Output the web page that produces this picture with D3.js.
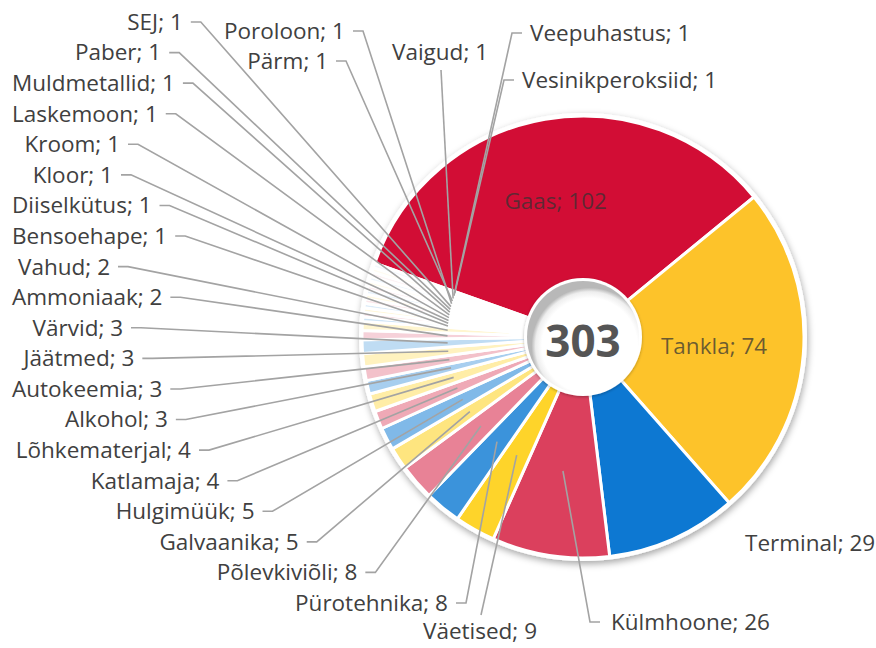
<!DOCTYPE html>
<html>
<head>
<meta charset="utf-8">
<script src="https://cdn.jsdelivr.net/npm/d3@7"></script>
<style>
  html, body { margin: 0; padding: 0; background: #fff; }
  svg { display: block; font-family: "Open Sans", sans-serif; }
</style>
</head>
<body>
<div id="chart"></div>
<script>
// data, in the order the slices run clockwise
const categories = ["Gaas", "Tankla", "Terminal", "Külmhoone", "Väetised", "Pürotehnika",
  "Põlevkiviõli", "Galvaanika", "Hulgimüük", "Katlamaja", "Lõhkematerjal", "Alkohol",
  "Autokeemia", "Jäätmed", "Värvid", "Ammoniaak", "Vahud", "Bensoehape", "Diiselkütus",
  "Kloor", "Kroom", "Laskemoon", "Muldmetallid", "Paber", "SEJ", "Poroloon", "Pärm",
  "Vaigud", "Veepuhastus", "Vesinikperoksiid"];
const values = [102, 74, 29, 26, 9, 8, 8, 5, 5, 4, 4, 3, 3, 3, 3, 2, 2,
  1, 1, 1, 1, 1, 1, 1, 1, 1, 1, 1, 1, 1];

const width = 876;
const height = 648;
const cx = 583, cy = 337;
const outerR = 221, innerR = 50, holeR = 56;
const startAngle = -70.5 * Math.PI / 180;

// colours: red / yellow / blue, getting paler every round
const baseColors = ["#d20f35", "#fdc32a", "#0a78d2"];
const lightColors = ["#d20f35", "#fed42a", "#0a78d2"];
const tints = [
  [0, 0.2, 0.48, 0.64, 0.74, 0.81, 0.86, 0.9, 0.93, 0.95],
  [0, 0, 0.4, 0.58, 0.7, 0.78, 0.84, 0.88, 0.92, 0.94],
  [0, 0.2, 0.48, 0.64, 0.74, 0.81, 0.86, 0.9, 0.93, 0.95]
];
function sliceColor(i) {
  const k = i % 3, lvl = Math.floor(i / 3);
  if (lvl === 0) return baseColors[k];
  return d3.interpolateRgb(lightColors[k], "#fff")(tints[k][lvl]);
}

const data = categories.map((name, i) => ({ name: name, value: values[i], index: i }));
const total = d3.sum(values);

const svg = d3.select("#chart").append("svg")
  .attr("width", width)
  .attr("height", height);

const defs = svg.append("defs");
const pieShadow = defs.append("filter").attr("id", "pieShadow")
  .attr("x", "-10%").attr("y", "-10%").attr("width", "120%").attr("height", "125%");
pieShadow.append("feDropShadow")
  .attr("dx", 1).attr("dy", 3).attr("stdDeviation", 3.5)
  .attr("flood-color", "#000").attr("flood-opacity", 0.35);

const holeShadow = defs.append("filter").attr("id", "holeShadow")
  .attr("x", "-30%").attr("y", "-30%").attr("width", "160%").attr("height", "160%");
holeShadow.append("feDropShadow")
  .attr("dx", 0).attr("dy", 1).attr("stdDeviation", 1.5)
  .attr("flood-color", "#000").attr("flood-opacity", 0.3);

const holeGrad = defs.append("radialGradient").attr("id", "holeGrad")
  .attr("cx", "56%").attr("cy", "58%").attr("r", "52%");
holeGrad.append("stop").attr("offset", "0.82").attr("stop-color", "#fff");
holeGrad.append("stop").attr("offset", "0.93").attr("stop-color", "#eee");
holeGrad.append("stop").attr("offset", "1").attr("stop-color", "#b8b8b8");

const pie = d3.pie()
  .sort(null)
  .value(d => d.value)
  .startAngle(startAngle)
  .endAngle(startAngle + 2 * Math.PI);
const arcs = pie(data);

const arc = d3.arc().innerRadius(innerR).outerRadius(outerR);

// slices
const pieG = svg.append("g")
  .attr("transform", `translate(${cx},${cy})`)
  .attr("filter", "url(#pieShadow)");

pieG.append("circle").attr("r", outerR + 3).attr("fill", "#fff");

pieG.selectAll("path.slice")
  .data(arcs)
  .join("path")
  .attr("class", "slice")
  .attr("d", arc)
  .attr("fill", d => sliceColor(d.index))
  .attr("stroke", "#fff")
  .attr("stroke-width", 3)
  .attr("stroke-linejoin", "round");

// centre disc with total
const holeG = svg.append("g").attr("transform", `translate(${cx},${cy})`);
holeG.append("circle").attr("r", holeR + 3).attr("fill", "#fff").attr("filter", "url(#holeShadow)");
holeG.append("circle").attr("r", holeR).attr("fill", "url(#holeGrad)");
holeG.append("text")
  .attr("text-anchor", "middle")
  .attr("dy", "0.36em")
  .attr("y", 4)
  .style("font-size", "44px")
  .style("font-weight", 700)
  .attr("fill", "#555")
  .text(total);

// labels
const midDeg = d => ((d.startAngle + d.endAngle) / 2) * 180 / Math.PI;
const centroid = d => {
  const c = arc.centroid(d);
  return [cx + c[0], cy + c[1]];
};
const labelText = d => `${d.data.name}; ${d.data.value}`;

const lineG = svg.append("g")
  .attr("fill", "none")
  .attr("stroke", "#a3a3a3")
  .attr("stroke-width", 1.6);
const textG = svg.append("g")
  .style("font-size", "22.5px")
  .attr("fill", "#404040");
const line = d3.line();

// big slices: label inside
arcs.filter(d => d.value >= 50).forEach(d => {
  const [x, y] = centroid(d);
  textG.append("text")
    .attr("x", x - 4).attr("y", y - 2).attr("dy", "0.35em")
    .attr("text-anchor", "middle")
    .attr("fill", "#333")
    .attr("fill-opacity", 0.72)
    .text(labelText(d));
});

// left column, evenly spaced, hugging an ellipse round the pie
const column = arcs
  .filter(d => midDeg(d) > 215 && midDeg(d) < 283.5)
  .sort((a, b) => midDeg(b) - midDeg(a));
const colY = d3.scalePoint().domain(column.map(d => d.data.name)).range([22, 603]);
const ell = { a: 475, b: 388, c: 231 };
column.forEach(d => {
  const y = colY(d.data.name);
  const txt = textG.append("text")
    .attr("y", y).attr("dy", "0.35em")
    .attr("text-anchor", "end")
    .text(labelText(d));
  const w = txt.node().getComputedTextLength();
  const k = (y - ell.c) / ell.b;
  let xEnd = cx - ell.a * Math.sqrt(Math.max(0, 1 - k * k));
  xEnd = Math.max(xEnd, 12 + w);
  txt.attr("x", xEnd);
  lineG.append("path").attr("d", line([[xEnd + 8, y], [xEnd + 18, y], centroid(d)]));
});

// top row for the last few thin slices
const topX = 440;
const topSlots = [
  { dx: -95, y: 31, anchor: "end" },
  { dx: -112, y: 61, anchor: "end" },
  { dx: 0, y: 52, anchor: "middle" },
  { dx: 90, y: 33, anchor: "start" },
  { dx: 82, y: 80, anchor: "start" }
];
arcs.filter(d => midDeg(d) >= 283.5).forEach((d, i) => {
  const s = topSlots[i];
  const x = topX + s.dx;
  textG.append("text")
    .attr("x", x).attr("y", s.y).attr("dy", "0.35em")
    .attr("text-anchor", s.anchor)
    .text(labelText(d));
  let pts;
  if (s.anchor === "end") pts = [[x + 8, s.y], [x + 18, s.y], centroid(d)];
  else if (s.anchor === "start") pts = [[x - 8, s.y], [x - 18, s.y], centroid(d)];
  else pts = [[x + 1, s.y + 18], centroid(d)];
  lineG.append("path").attr("d", line(pts));
});

// remaining medium slices below / right of the pie
const bottomSlots = [
  { x: 745, y: 543, anchor: "start", lead: false },
  { x: 611, y: 622, anchor: "start", lead: true },
  { x: 480, y: 631, anchor: "middle", lead: true }
];
arcs.filter(d => d.value < 50 && midDeg(d) <= 215).forEach((d, i) => {
  const s = bottomSlots[i];
  textG.append("text")
    .attr("x", s.x).attr("y", s.y).attr("dy", "0.35em")
    .attr("text-anchor", s.anchor)
    .text(labelText(d));
  if (!s.lead) return;
  const pts = s.anchor === "start"
    ? [[s.x - 11, s.y], [s.x - 21, s.y], centroid(d)]
    : [[s.x + 1, s.y - 16], centroid(d)];
  lineG.append("path").attr("d", line(pts));
});
</script>
</body>
</html>
